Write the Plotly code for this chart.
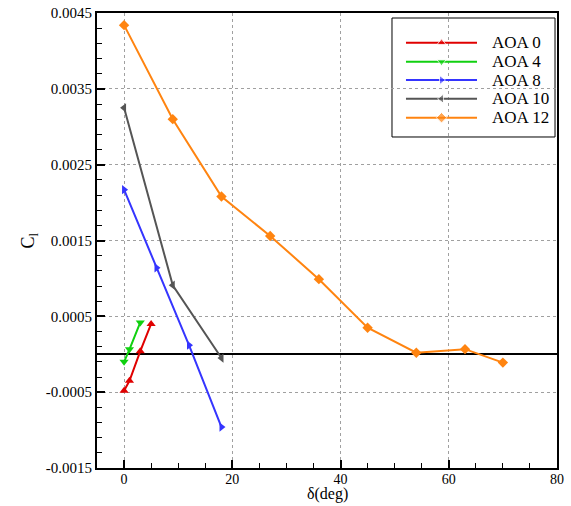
import plotly.graph_objects as go

# Rolling-moment coefficient vs. deflection angle for several angles of attack
aoa0_x = [0, 1, 3, 5]
aoa0_y = [-0.00048, -0.00035, 0.00004, 0.00040]

aoa4_x = [0, 1, 3]
aoa4_y = [-0.00010, 0.000065, 0.00042]

aoa8_x = [0, 6, 12, 18]
aoa8_y = [0.00217, 0.00114, 0.00012, -0.00096]

aoa10_x = [0, 9, 18]
aoa10_y = [0.00325, 0.00091, -0.00005]

aoa12_x = [0, 9, 18, 27, 36, 45, 54, 63, 70]
aoa12_y = [0.00434, 0.00310, 0.00208, 0.00156, 0.00099, 0.00035, 0.00002, 0.000067, -0.00011]

y_ticks = [-0.0015, -0.0005, 0.0005, 0.0015, 0.0025, 0.0035, 0.0045]
y_tick_text = ["-0.0015", "-0.0005", "0.0005", "0.0015", "0.0025", "0.0035", "0.0045"]
x_ticks = [0, 20, 40, 60, 80]

series = [
    ("AOA 0", aoa0_x, aoa0_y, "#e00000", "triangle-up"),
    ("AOA 4", aoa4_x, aoa4_y, "#10d010", "triangle-down"),
    ("AOA 8", aoa8_x, aoa8_y, "#3535ff", "triangle-right"),
    ("AOA 10", aoa10_x, aoa10_y, "#555555", "triangle-left"),
    ("AOA 12", aoa12_x, aoa12_y, "#ff8410", "diamond"),
]

font_family = "Liberation Serif"

fig = go.Figure()
for name, xs, ys, color, symbol in series:
    fig.add_trace(go.Scatter(
        x=xs, y=ys, name=name, mode="lines+markers",
        line=dict(color=color, width=2),
        marker=dict(symbol=symbol, size=8, color=color),
        showlegend=False,
    ))

# Boxed key drawn on an overlay axis spanning the plot area (0..1 each way)
key_box = dict(x0=0.6413, x1=0.9957, y0=0.7275, y1=0.989)
key_line_x = [0.6717, 0.749, 0.8261]
key_text_x = 0.8543
key_rows_y = [0.9347, 0.893, 0.8527, 0.8116, 0.7699]

fig.add_shape(type="rect", xref="paper", yref="paper",
              x0=key_box["x0"], x1=key_box["x1"], y0=key_box["y0"], y1=key_box["y1"],
              line=dict(color="black", width=1), fillcolor="white", layer="between")

for (name, _, _, color, symbol), ky in zip(series, key_rows_y):
    fig.add_trace(go.Scatter(
        x=key_line_x, y=[ky] * 3, xaxis="x2", yaxis="y2", mode="lines+markers",
        line=dict(color=color, width=2),
        marker=dict(symbol=symbol, size=[0, 8, 0], color=color),
        showlegend=False, hoverinfo="skip",
    ))
    fig.add_annotation(x=key_text_x, y=ky, xref="paper", yref="paper", text=name,
                       showarrow=False, xanchor="left", yanchor="middle",
                       font=dict(family=font_family, size=17, color="black"))

# Axis titles
fig.add_annotation(x=0.5, y=-0.082, xref="paper", yref="paper", text="δ(deg)",
                   showarrow=False, xanchor="center", yanchor="bottom",
                   font=dict(family=font_family, size=16, color="black"))
fig.add_annotation(x=-0.1457, y=0.5, xref="paper", yref="paper", text="C<sub>l</sub>",
                   showarrow=False, xanchor="center", yanchor="middle", textangle=-90,
                   font=dict(family=font_family, size=18, color="black"))

fig.update_layout(
    width=571, height=506,
    margin=dict(l=97, r=14, t=13, b=38),
    paper_bgcolor="white", plot_bgcolor="white",
    font=dict(family=font_family, size=15, color="black"),
    showlegend=False,
    xaxis2=dict(overlaying="x", range=[0, 1], visible=False, fixedrange=True),
    yaxis2=dict(overlaying="y", range=[0, 1], visible=False, fixedrange=True),
)

fig.update_layout(xaxis=dict(
    range=[-5, 80], tickvals=x_ticks, ticks="inside", ticklen=8, tickwidth=2,
    tickcolor="black", showline=True, linecolor="black", linewidth=2, mirror=True,
    showgrid=True, gridcolor="#a0a0a0", griddash="dot", gridwidth=1,
    zeroline=False, automargin=False, ticklabelstandoff=-3,
    minor=dict(dtick=5, ticks="inside", ticklen=5, tickwidth=1, tickcolor="black", showgrid=False),
    tickfont=dict(family=font_family, size=14),
))

fig.update_layout(yaxis=dict(
    range=[-0.0015, 0.0045], tickvals=y_ticks, ticktext=y_tick_text,
    ticks="inside", ticklen=8, tickwidth=2, tickcolor="black",
    showline=True, linecolor="black", linewidth=2, mirror=True,
    showgrid=True, gridcolor="#a0a0a0", griddash="dot", gridwidth=1,
    zeroline=True, zerolinecolor="black", zerolinewidth=2, automargin=False,
    minor=dict(dtick=0.0002, tick0=0.0005, ticks="inside", ticklen=5, tickwidth=1,
               tickcolor="black", showgrid=False),
    tickfont=dict(family=font_family, size=15),
))

fig.write_html("out.html")
